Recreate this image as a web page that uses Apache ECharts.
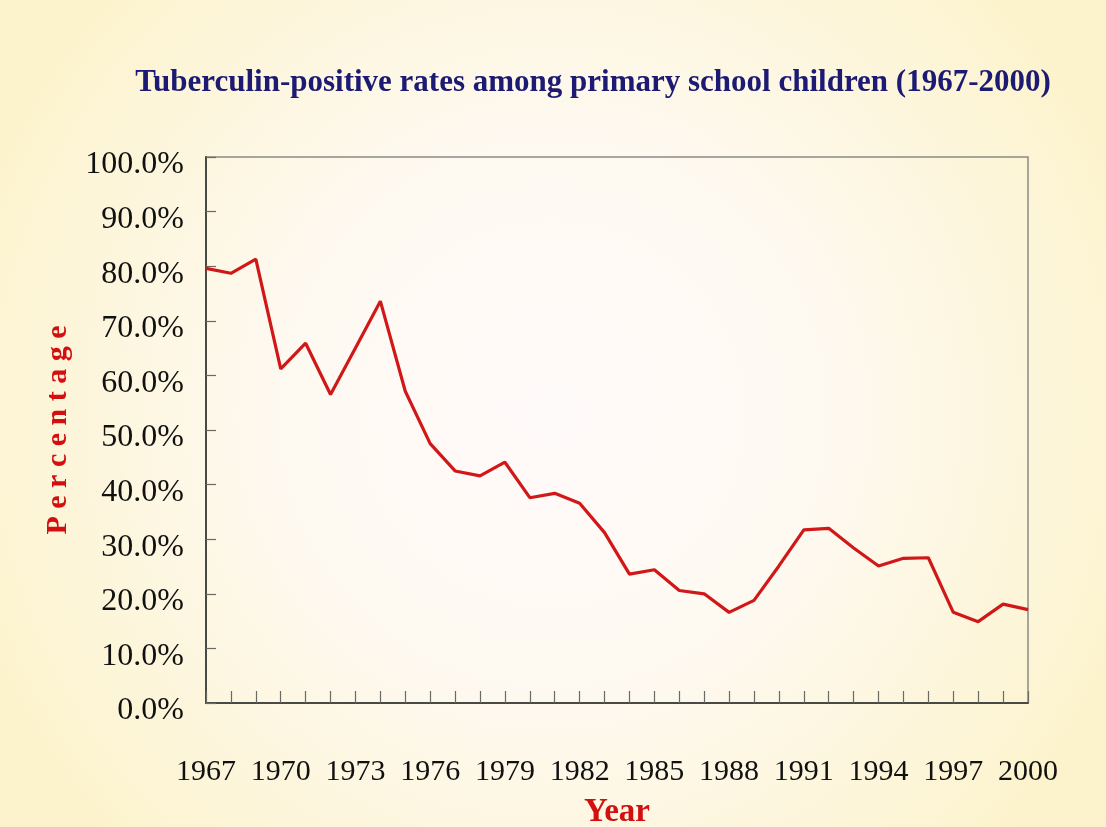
<!DOCTYPE html>
<html>
<head>
<meta charset="utf-8">
<script src="https://cdn.jsdelivr.net/npm/echarts@6/dist/echarts.min.js"></script>
<style>
  html, body { margin: 0; padding: 0; }
  #main { width: 1106px; height: 827px; }
</style>
</head>
<body>
<div id="main"></div>
<script>
// years on the x axis
const years = [
  "1967", "1968", "1969", "1970", "1971", "1972", "1973", "1974", "1975", "1976",
  "1977", "1978", "1979", "1980", "1981", "1982", "1983", "1984", "1985", "1986",
  "1987", "1988", "1989", "1990", "1991", "1992", "1993", "1994", "1995", "1996",
  "1997", "1998", "1999", "2000"
];
// tuberculin-positive rate, %
const positiveRate = [
  79.6, 78.7, 81.3, 61.2, 65.9, 56.5, 65.0, 73.6, 57.1, 47.5,
  42.5, 41.6, 44.1, 37.6, 38.4, 36.6, 31.2, 23.6, 24.4, 20.6,
  20.0, 16.6, 18.8, 25.1, 31.7, 32.0, 28.4, 25.1, 26.5, 26.6,
  16.6, 14.9, 18.1, 17.1
];

const chart = echarts.init(document.getElementById("main"));

const option = {
  backgroundColor: {
    type: "radial",
    x: 0.5,
    y: 0.5,
    r: 0.75,
    colorStops: [
      { offset: 0, color: "#fefafa" },
      { offset: 0.45, color: "#fef9f0" },
      { offset: 1, color: "#fcf3cc" },
    ],
  },
  title: {
    text: "Tuberculin-positive rates among primary school children (1967-2000)",
    left: 588,
    textAlign: "center",
    top: 62,
    textStyle: {
      fontFamily: "Liberation Serif",
      fontWeight: "bold",
      fontSize: 31,
      color: "#1c1a72",
    },
  },
  grid: {
    left: 206,
    right: 78,
    top: 157,
    bottom: 124,
    outerBoundsMode: "none",
    containLabel: false,
    show: true,
    borderColor: "#8a8a84",
    borderWidth: 1.5,
    backgroundColor: "transparent",
  },
  xAxis: {
    type: "category",
    data: years,
    boundaryGap: false,
    name: "Year",
    nameLocation: "middle",
    nameGap: 93,
    nameTextStyle: {
      fontFamily: "Liberation Serif",
      fontWeight: "bold",
      fontSize: 33,
      color: "#d40f0f",
    },
    axisLine: { lineStyle: { color: "#4a4a44", width: 2 } },
    axisTick: {
      inside: true,
      length: 12,
      interval: 0,
      lineStyle: { color: "#6a6a64", width: 1.2 },
    },
    axisLabel: {
      interval: 2,
      margin: 54,
      fontFamily: "Liberation Serif",
      fontSize: 30,
      color: "#111",
    },
    splitLine: { show: false },
  },
  yAxis: {
    type: "value",
    min: 0,
    max: 100,
    interval: 10,
    name: "P e r c e n t a g e",
    nameLocation: "middle",
    nameRotate: 90,
    nameGap: 133,
    nameTextStyle: {
      fontFamily: "Liberation Serif",
      fontWeight: "bold",
      fontSize: 30,
      color: "#d40f0f",
    },
    axisLine: { show: true, lineStyle: { color: "#4a4a44", width: 2 } },
    axisTick: {
      show: true,
      inside: true,
      length: 10,
      lineStyle: { color: "#6a6a64", width: 1.2 },
    },
    axisLabel: {
      margin: 22,
      verticalAlign: "top",
      lineHeight: 16,
      fontFamily: "Liberation Serif",
      fontSize: 32,
      color: "#111",
      formatter: (v) => v.toFixed(1) + "%",
    },
    splitLine: { show: false },
  },
  series: [
    {
      name: "Tuberculin-positive rate",
      type: "line",
      data: positiveRate,
      symbol: "none",
      lineStyle: { color: "#d01818", width: 3.2 },
      silent: true,
    },
  ],
};

chart.setOption(option);
</script>
</body>
</html>
